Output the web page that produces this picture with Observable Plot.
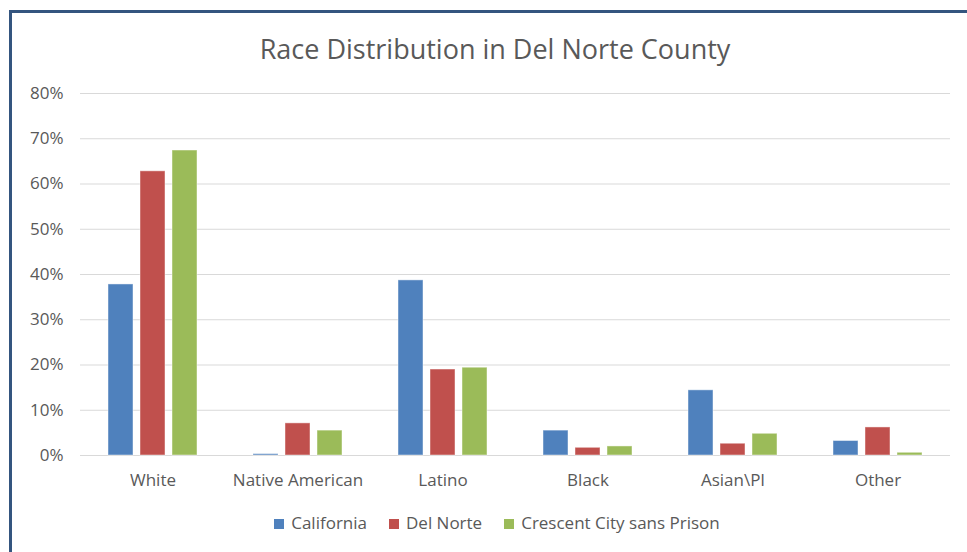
<!DOCTYPE html>
<html>
<head>
<meta charset="utf-8">
<script src="https://cdn.jsdelivr.net/npm/d3@7"></script>
<script src="https://cdn.jsdelivr.net/npm/@observablehq/plot@0.6"></script>
<style>
  html, body { margin: 0; padding: 0; background: #fff; }
  body { width: 967px; height: 552px; overflow: hidden; position: relative; font-family: "Open Sans", Lato, sans-serif; color: #595959; }
  #frame { position: absolute; left: 9px; top: 10px; width: 980px; height: 560px; border-left: 3px solid #34557f; border-top: 3px solid #34557f; box-sizing: border-box; pointer-events: none; }
  #title { position: absolute; left: 0; top: 0; width: 990px; height: 70px; text-align: center; font-size: 27px; line-height: 98px; white-space: nowrap; }
  #chart { position: absolute; left: 0; top: 70px; }
  #legend { position: absolute; left: 0; top: 508px; width: 994px; text-align: center; font-size: 17px; line-height: 30px; white-space: nowrap; }
  .item { display: inline-block; margin: 0 11px; }
  .sw { display: inline-block; width: 10px; height: 10px; margin-right: 7px; vertical-align: 0px; }
</style>
</head>
<body>
<div id="title">Race Distribution in Del Norte County</div>
<div id="chart"></div>
<div id="legend"></div>
<div id="frame"></div>
<script>
// Share of population by race (percent)
const categories = ["White", "Native American", "Latino", "Black", "Asian\\PI", "Other"];
const series = ["California", "Del Norte", "Crescent City sans Prison"];
const california = [37.8, 0.3, 38.7, 5.5, 14.4, 3.2];
const delNorte = [62.8, 7.1, 19.0, 1.7, 2.6, 6.2];
const crescentCity = [67.4, 5.5, 19.4, 2.0, 4.8, 0.6];
const colors = ["#4F81BD", "#C0504D", "#9BBB59"];
const yTicks = [0, 10, 20, 30, 40, 50, 60, 70, 80];

const seriesValues = [california, delNorte, crescentCity];
const rows = [];
categories.forEach((c, i) => {
  series.forEach((s, j) => rows.push({race: c, series: s, value: seriesValues[j][i]}));
});

const plot = Plot.plot({
  width: 967,
  height: 430,
  marginTop: 23,
  marginBottom: 45,
  marginLeft: 78,
  marginRight: 15,
  style: {fontFamily: "'Open Sans', Lato, sans-serif", fontSize: "17px", color: "#595959", background: "transparent"},
  fx: {domain: categories, padding: 0, axis: "bottom", tickSize: 0, tickPadding: 18, label: null},
  x: {domain: series, axis: null, paddingInner: 0.215, paddingOuter: 0.85},
  y: {domain: [0, 80], ticks: yTicks, tickSize: 0, tickPadding: 17, tickFormat: d => d + "%", label: null},
  color: {domain: series, range: colors},
  marks: [
    Plot.ruleY(yTicks, {stroke: "#d9d9d9", strokeWidth: 1}),
    Plot.barY(rows, {fx: "race", x: "series", y: "value", fill: "series", stroke: "#ffffff", strokeOpacity: 0.45, strokeWidth: 1})
  ]
});
document.getElementById("chart").appendChild(plot);

const legend = d3.select("#legend");
series.forEach((s, i) => {
  const item = legend.append("span").attr("class", "item");
  item.append("span").attr("class", "sw").style("background", colors[i]);
  item.append("span").text(s);
});
</script>
</body>
</html>
